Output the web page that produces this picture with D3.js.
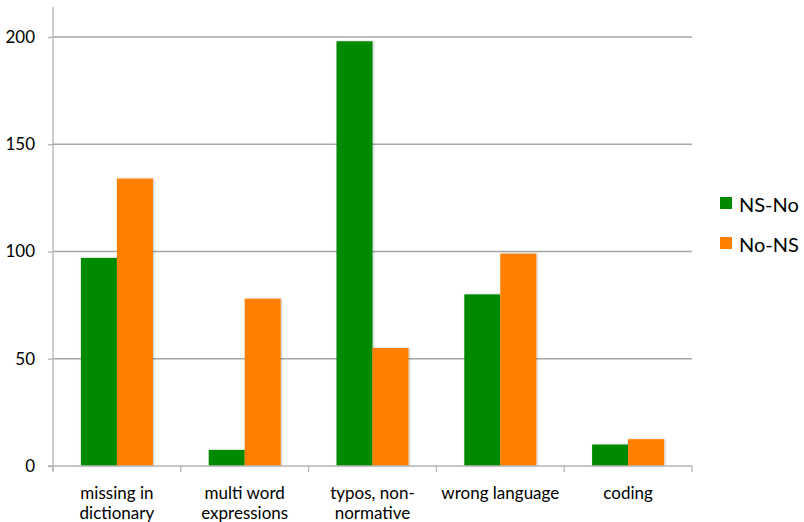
<!DOCTYPE html>
<html><head><meta charset="utf-8">
<script src="https://cdn.jsdelivr.net/npm/d3@7"></script>
<style>body{margin:0;background:#fff;} svg{display:block;font-family:Lato,"Open Sans",sans-serif;}</style>
</head><body>
<svg id="c" width="804" height="522"></svg>
<script>
const categories = [["missing in","dictionary"],["multi word","expressions"],["typos, non-","normative"],["wrong language"],["coding"]];
const seriesNames = ["NS-No","No-NS"];
const nsNo = [97, 7.5, 198, 80, 10];
const noNs = [134, 78, 55, 99, 12.5];
const yTicks = [0, 50, 100, 150, 200];
const colors = ["#008a00", "#ff7f00"];

const svg = d3.select("#c");
const left = 53, right = 692, bottom = 466;
const x = d3.scaleBand().domain(d3.range(categories.length)).range([left, right]);
const y = d3.scaleLinear().domain([0, 200]).range([bottom, 37]);
const inner = d3.scaleBand().domain([0,1]).range([0, 72]);

const defs = svg.append("defs");
const f = defs.append("filter").attr("id","sh").attr("x","-20%").attr("y","-20%").attr("width","140%").attr("height","140%");
f.append("feDropShadow").attr("dx",1).attr("dy",0).attr("stdDeviation",1).attr("flood-color","#000").attr("flood-opacity",0.25);

// gridlines
svg.append("g").selectAll("line").data(yTicks.filter(d=>d>0)).join("line")
  .attr("x1", left).attr("x2", right).attr("y1", d=>y(d)).attr("y2", d=>y(d))
  .attr("stroke", "#a6a6a6").attr("stroke-width", 1.3);

// y axis
const ya = svg.append("g").attr("transform", `translate(${left},0)`)
  .call(d3.axisLeft(y).tickValues(yTicks).tickSize(5).tickPadding(13));
ya.select(".domain").remove();
ya.append("line").attr("x1",0).attr("x2",0).attr("y1",7).attr("y2",bottom+5).attr("stroke","#b4b4b4").attr("stroke-width",1.3);
ya.selectAll(".tick line").attr("stroke","#b4b4b4").attr("stroke-width",1.3);
ya.selectAll(".tick text").attr("font-size",17).attr("fill","#000").attr("font-family","Lato,sans-serif");

// bars
const data = categories.map((c,i)=>({i, vals:[nsNo[i], noNs[i]]}));
const g = svg.append("g").selectAll("g").data(data).join("g")
  .attr("transform", d=>`translate(${x(d.i) + (x.bandwidth()-72)/2},0)`);
g.selectAll("rect").data(d=>d.vals.map((v,k)=>({v,k}))).join("rect")
  .attr("x", d=>inner(d.k)).attr("width", inner.bandwidth())
  .attr("y", d=>y(d.v)).attr("height", d=>bottom - y(d.v))
  .attr("fill", d=>colors[d.k]).attr("filter","url(#sh)");

// x axis
const xa = svg.append("g");
xa.append("line").attr("x1", left-5).attr("x2", right).attr("y1", bottom).attr("y2", bottom).attr("stroke","#b4b4b4").attr("stroke-width",1.3);
const bounds = d3.range(categories.length+1).map(i=>left + i*x.bandwidth());
xa.selectAll("line.t").data(bounds).join("line").attr("class","t")
  .attr("x1", d=>d).attr("x2", d=>d).attr("y1", bottom).attr("y2", bottom+6)
  .attr("stroke","#b4b4b4").attr("stroke-width",1.3);
const lbl = xa.selectAll("text").data(categories).join("text")
  .attr("text-anchor","middle").attr("font-size",17).attr("fill","#000")
  .attr("transform",(d,i)=>`translate(${x(i)+x.bandwidth()/2},${bottom+33})`);
lbl.selectAll("tspan").data(d=>d).join("tspan").attr("x",0).attr("dy",(d,j)=>j===0?0:20).text(d=>d);

// legend
const lg = svg.append("g").selectAll("g").data(seriesNames).join("g")
  .attr("transform",(d,i)=>`translate(720,${197 + i*40})`);
lg.append("rect").attr("width",12).attr("height",12).attr("fill",(d,i)=>colors[i]);
lg.append("text").attr("x",19).attr("y",15).attr("font-size",20).attr("fill","#000").text(d=>d);
</script>
</body></html>
